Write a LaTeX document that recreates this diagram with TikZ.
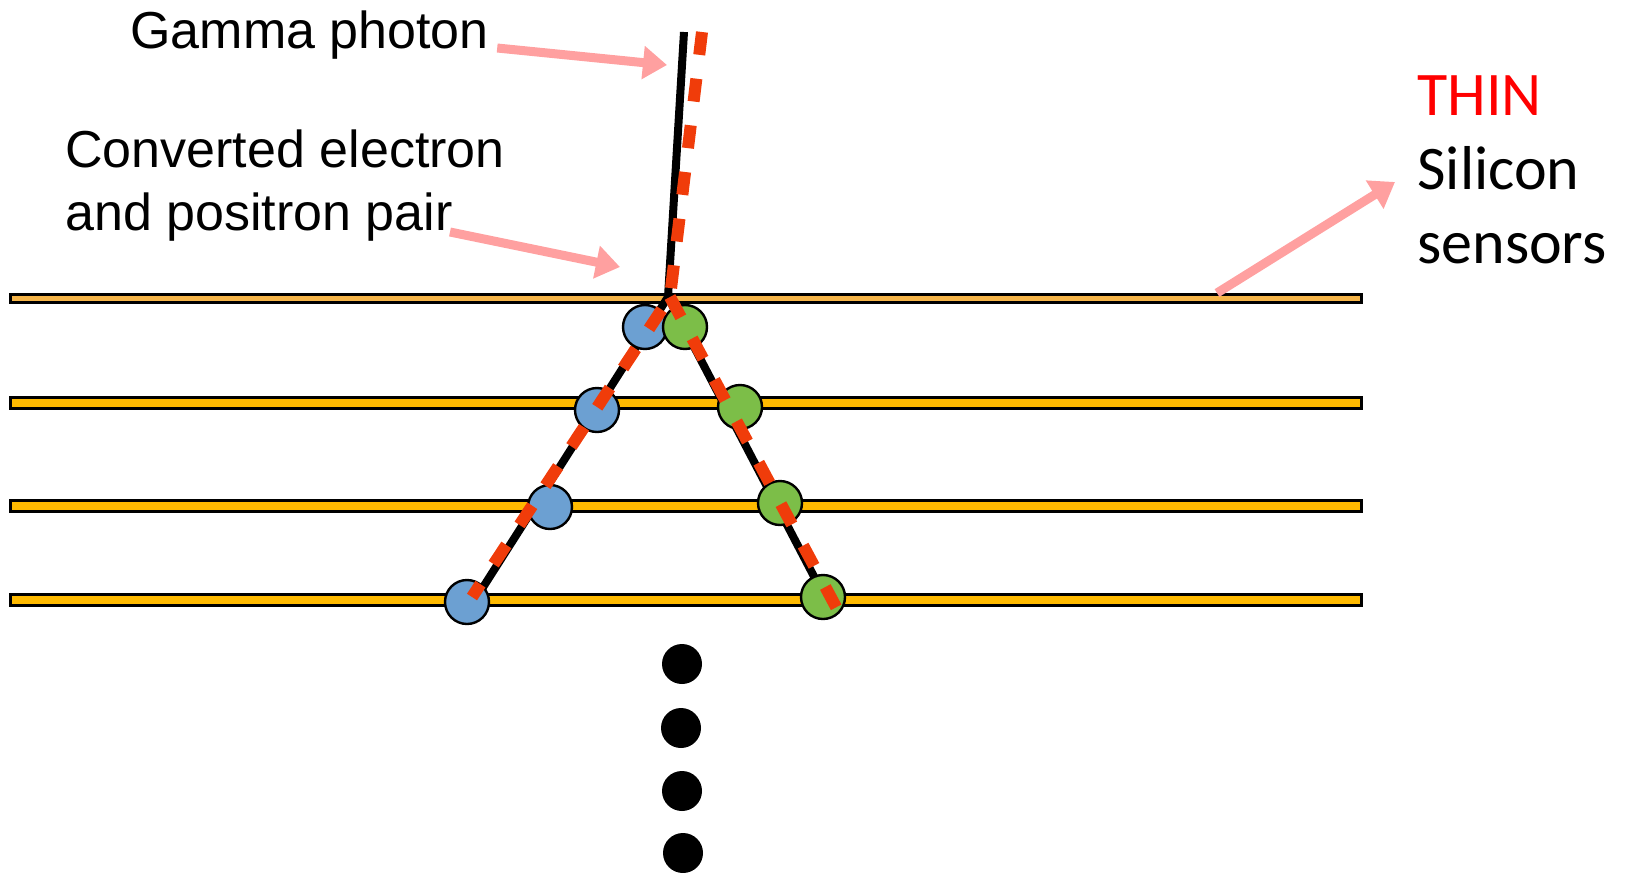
\documentclass[tikz,border=0pt]{standalone}
\usepackage{tikz}
\usetikzlibrary{arrows.meta}
\usepackage{xcolor}
\usepackage{fontspec}
\setmainfont{Liberation Sans}
\newfontfamily\calibrifont{Carlito}
\definecolor{sensorgold}{RGB}{255,186,0}
\definecolor{sensortop}{RGB}{245,180,72}
\definecolor{hitblue}{RGB}{108,160,210}
\definecolor{hitgreen}{RGB}{124,190,72}
\definecolor{fitred}{RGB}{240,60,10}
\definecolor{pointerpink}{RGB}{255,160,160}
\tikzstyle{sensor} = [draw=black, line width=1.5pt, fill=sensorgold,
    rectangle, inner sep=0, minimum width=675.5pt, minimum height=5.5pt]
\tikzstyle{hit} = [draw=black, line width=1.2pt, circle, inner sep=0, minimum size=22pt]
\tikzstyle{track} = [draw=black, line width=4pt]
\tikzstyle{fittrack} = [draw=fitred, line width=6pt, dash pattern=on 11.5pt off 12pt]
\tikzstyle{pointer} = [draw=pointerpink, line width=4.5pt, -{Triangle[length=12pt,width=16pt]}]
\tikzstyle{annot} = [inner sep=0, font=\fontsize{26}{31.5}\selectfont, align=left]
\tikzstyle{sidenote} = [inner sep=0, font=\calibrifont\fontsize{31}{37}\selectfont, align=left]
\tikzstyle{dot} = [circle, fill=black, inner sep=0, minimum size=20pt]

\begin{document}
\begin{tikzpicture}[x=0.5pt, y=-0.5pt]
    \useasboundingbox (0,0) rectangle (1629,873);

    \node [sensor, fill=sensortop, minimum height=4pt] (s1) at (686,298.5) {};
    \node [sensor] (s2) at (686,403) {};
    \node [sensor] (s3) at (686,506) {};
    \node [sensor] (s4) at (686,600) {};

    \coordinate (v) at (668,297);
    \coordinate (gtop) at (684,32);
    \coordinate (eend) at (480,592);
    \coordinate (pend) at (820,588);
    \draw [track] (gtop) -- (v) -- (eend);
    \draw [track] (v) -- (pend);

    \node [hit, fill=hitblue] (e1) at (645,327) {};
    \node [hit, fill=hitgreen] (p1) at (685,327) {};
    \node [hit, fill=hitblue] (e2) at (597,410) {};
    \node [hit, fill=hitgreen] (p2) at (740,407) {};
    \node [hit, fill=hitblue] (e3) at (550,507) {};
    \node [hit, fill=hitgreen] (p3) at (780,503) {};
    \node [hit, fill=hitblue] (e4) at (467,602) {};
    \node [hit, fill=hitgreen] (p4) at (823,597) {};

    \coordinate (ftop) at (702,32);
    \coordinate (fv) at (670,297);
    \coordinate (fe) at (472,597);
    \coordinate (fp) at (843,620);
    \draw [fittrack] (ftop) -- (fv) -- (fe);
    \draw [fittrack] (fv) -- (fp);

    \node [dot] (d1) at (682,664) {};
    \node [dot] (d2) at (681,728) {};
    \node [dot] (d3) at (682,791) {};
    \node [dot] (d4) at (683,853) {};

    \node [annot, anchor=base west] (gamma) at (130,48) {Gamma photon};
    \node [annot, anchor=base west] (pair) at (65,230) {Converted electron\\and positron pair};
    \node [sidenote, anchor=base west] (silicon) at (1417,263) {\textcolor{red}{THIN}\\Silicon\\sensors};

    \coordinate (gtip) at (667,65);
    \coordinate (ptip) at (620,267);
    \coordinate (sroot) at (1217,293);
    \draw [pointer] ([xshift=4pt]gamma.base east) -- (gtip);
    \draw [pointer] ([shift={(385,2)}]pair.base west) -- (ptip);
    \draw [pointer] (sroot) -- ([shift={(-22,-81)}]silicon.base west);
\end{tikzpicture}
\end{document}
